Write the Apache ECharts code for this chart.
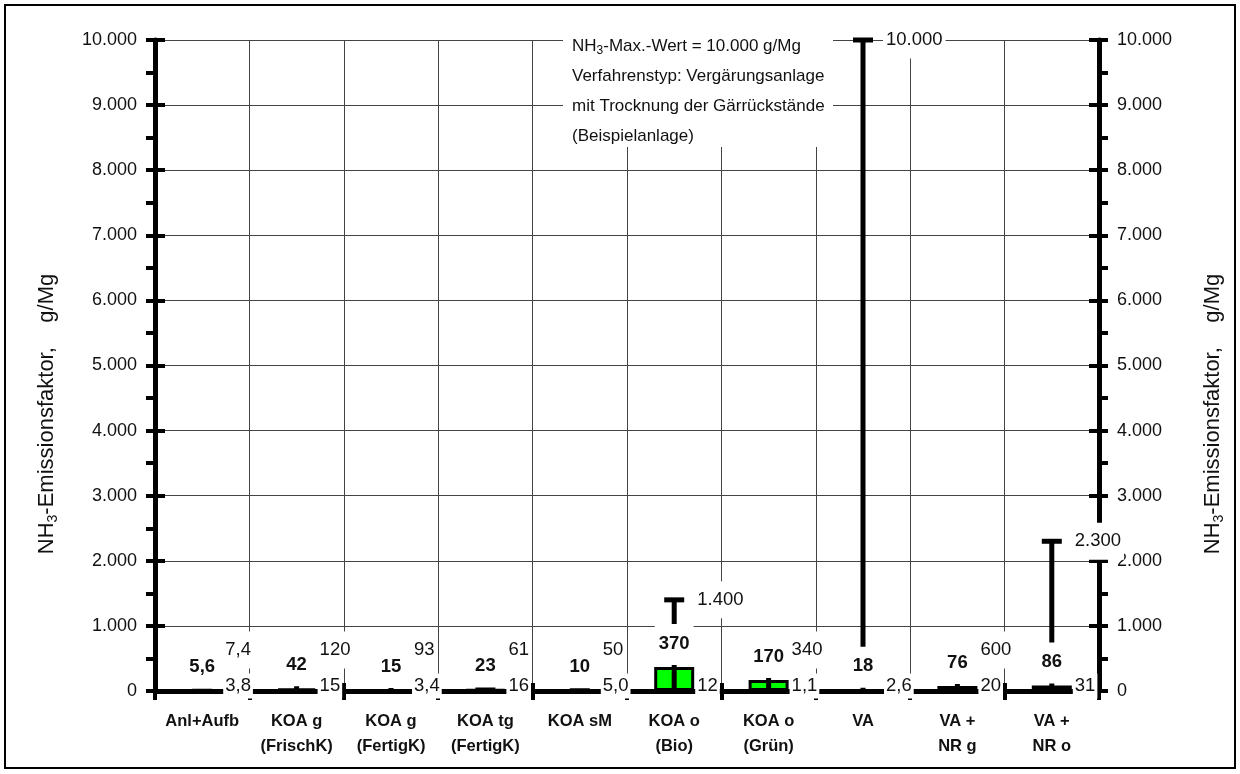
<!DOCTYPE html>
<html><head><meta charset="utf-8">
<script src="https://cdn.jsdelivr.net/npm/echarts@6/dist/echarts.min.js"></script>
<style>html,body{margin:0;padding:0;background:#fff}#c{width:1240px;height:774px}</style>
</head><body><div id="c"></div>
<script>
const categories = ['Anl+Aufb','KOA g\n(FrischK)','KOA g\n(FertigK)','KOA tg\n(FertigK)','KOA sM','KOA o\n(Bio)','KOA o\n(Grün)','VA','VA +\nNR g','VA +\nNR o'];
const meanValues = [5.6, 42, 15, 23, 10, 370, 170, 18, 76, 86];
const minValues  = [3.8, 15, 3.4, 16, 5.0, 12, 1.1, 2.6, 20, 31];
const maxValues  = [7.4, 120, 93, 61, 50, 1400, 340, 10000, 600, 2300];
const yMin = 0, yMax = 10000, yStep = 1000;
const maxLabelFloor = 630;

const FF = '"Liberation Sans",Arial,sans-serif';
const TXT = '#111';

function thousands(v){ return String(v).replace(/\B(?=(\d{3})+(?!\d))/g,'.'); }
function fmt(v){
  if (v === 0) return '0';
  if (v >= 1000) return thousands(v);
  if (v < 10) return v.toFixed(1).replace('.', ',');
  return String(v);
}

const chart = echarts.init(document.getElementById('c'), null, {renderer:'canvas'});
const yBase = {type:'value', min:yMin, max:yMax, interval:yStep};
const tickStyle = {color:'#000', width:4};
const yTitle = '{a|NH}{s|3}{a|-Emissionsfaktor,    g/Mg}';
const yTitleRich = {a:{fontFamily:FF, fontSize:22, fill:TXT}, s:{fontFamily:FF, fontSize:14, fill:TXT, padding:[12,0,0,0]}};

const option = {
  animation:false,
  backgroundColor:'#fff',
  grid:{left:155, right:141, top:40, bottom:83, containLabel:false},
  xAxis:[
    {type:'category', data:categories, boundaryGap:true, position:'bottom',
     axisLine:{show:true, lineStyle:{color:'#000', width:5}},
     axisTick:{show:true, length:9, lineStyle:tickStyle},
     splitLine:{show:true, lineStyle:{color:'#444', width:1}},
     axisLabel:{interval:0, margin:18, fontFamily:FF, fontSize:16.5, fontWeight:'bold', color:TXT, lineHeight:25}},
    {type:'category', data:categories, boundaryGap:true, position:'bottom',
     axisLine:{show:false}, axisTick:{show:true, inside:true, length:8, lineStyle:tickStyle},
     axisLabel:{show:false}, splitLine:{show:false}}
  ],
  yAxis:[
    Object.assign({}, yBase, {position:'left',
      axisLine:{show:true, lineStyle:{color:'#000', width:5}},
      axisTick:{show:true, length:9, lineStyle:tickStyle},
      minorTick:{show:true, splitNumber:2, length:9, lineStyle:tickStyle},
      axisLabel:{margin:18, fontFamily:FF, fontSize:18, color:TXT, formatter:thousands},
      splitLine:{show:true, lineStyle:{color:'#444', width:1}}}),
    Object.assign({}, yBase, {position:'left', axisLine:{show:false},
      axisTick:{show:true, inside:true, length:10, lineStyle:tickStyle},
      axisLabel:{show:false}, splitLine:{show:false}}),
    Object.assign({}, yBase, {position:'right',
      axisLine:{show:true, lineStyle:{color:'#000', width:5}},
      axisTick:{show:true, length:9, lineStyle:tickStyle},
      minorTick:{show:true, splitNumber:2, length:9, lineStyle:tickStyle},
      axisLabel:{margin:18, fontFamily:FF, fontSize:18, color:TXT, formatter:thousands},
      splitLine:{show:false}}),
    Object.assign({}, yBase, {position:'right', axisLine:{show:false},
      axisTick:{show:true, inside:true, length:10, lineStyle:tickStyle},
      axisLabel:{show:false}, splitLine:{show:false}})
  ],
  series:[
    {type:'bar', data:meanValues, barWidth:40, z:2,
     itemStyle:{color:'#00ff00', borderColor:'#000', borderWidth:3}},
    {type:'custom', z:3,
     data:categories.map((c,i)=>[i, minValues[i], maxValues[i]]),
     renderItem:function(params, api){
       const x = api.coord([api.value(0), 0])[0];
       const yLo = api.coord([api.value(0), api.value(1)])[1];
       const yHi = api.coord([api.value(0), api.value(2)])[1];
       return {type:'group', children:[
         {type:'line', shape:{x1:x, y1:yLo, x2:x, y2:yHi}, style:{stroke:'#000', lineWidth:5}},
         {type:'line', shape:{x1:x-10, y1:yHi, x2:x+10, y2:yHi}, style:{stroke:'#000', lineWidth:5}}
       ]};
     }},
    {type:'custom', z:10,
     data:categories.map((c,i)=>[i, meanValues[i], minValues[i], maxValues[i]]),
     renderItem:function(params, api){
       const i = api.value(0);
       const x = api.coord([i, 0])[0];
       const y0 = api.coord([i, 0])[1];
       const yMean = api.coord([i, api.value(1)])[1];
       const yMaxL = api.coord([i, Math.max(api.value(3), maxLabelFloor)])[1];
       return {type:'group', children:[
         {type:'text', style:{text:fmt(api.value(1)), x:x, y:yMean-2, align:'center', verticalAlign:'bottom',
           fill:TXT, fontFamily:FF, fontSize:18.5, fontWeight:'bold', backgroundColor:'#fff', padding:[10,4,12,4]}},
         {type:'text', style:{text:fmt(api.value(2)), x:x+21, y:y0-5, align:'left', verticalAlign:'middle',
           fill:TXT, fontFamily:FF, fontSize:18.5, backgroundColor:'#fff', padding:[3,2,3,2]}},
         {type:'text', style:{text:fmt(api.value(3)), x:x+20, y:yMaxL, align:'left', verticalAlign:'middle',
           fill:TXT, fontFamily:FF, fontSize:18.5, backgroundColor:'#fff', padding:[9,3,9,3]}}
       ]};
     }}
  ],
  graphic:[
    {type:'rect', z:100, shape:{x:5, y:5, width:1230, height:763}, style:{fill:'none', stroke:'#000', lineWidth:2}},
    {type:'rect', z:100, shape:{x:563, y:32, width:270, height:115}, style:{fill:'#fff'}},
    {type:'text', z:101, x:572, y:31, style:{
      text:'{a|NH}{s|3}{a|-Max.-Wert = 10.000 g/Mg}\n{a|Verfahrenstyp: Vergärungsanlage}\n{a|mit Trocknung der Gärrückstände}\n{a|(Beispielanlage)}',
      rich:{a:{fontFamily:FF, fontSize:17, lineHeight:30, fill:TXT}, s:{fontFamily:FF, fontSize:12, lineHeight:30, fill:TXT, padding:[9,0,0,0]}}
    }},
    {type:'text', z:100, x:47, y:414, rotation:Math.PI/2, style:{text:yTitle, align:'center', verticalAlign:'middle', rich:yTitleRich}},
    {type:'text', z:100, x:1213, y:414, rotation:Math.PI/2, style:{text:yTitle, align:'center', verticalAlign:'middle', rich:yTitleRich}}
  ]
};
chart.setOption(option);
</script>
</body></html>
